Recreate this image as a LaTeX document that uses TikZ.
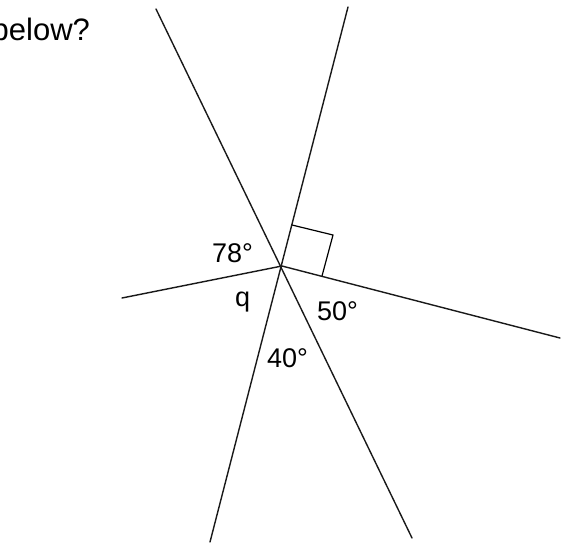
\documentclass[tikz,border=0pt]{standalone}
\usepackage{fontspec}
\setmainfont{Liberation Sans}
\begin{document}
\begin{tikzpicture}[x=1pt,y=-1pt,
  ray/.style={draw=black!90, line width=1.4pt, line cap=round},
  sq/.style={draw=black, line width=1.2pt},
  lab/.style={anchor=base west, inner sep=0pt, font=\fontsize{27}{30}\selectfont},
  big/.style={anchor=base west, inner sep=0pt, font=\fontsize{31}{34}\selectfont}]
\useasboundingbox (0,0) rectangle (568,542);
\clip (0,0) rectangle (568,542);
\coordinate (C) at (282,266);
\coordinate (TL) at (156,9);
\coordinate (BR) at (412,538);
\coordinate (TR) at (348,7);
\coordinate (BL) at (210,542);
\coordinate (L) at (122,298);
\coordinate (R) at (560,338);
\draw[ray] (TL) -- (BR);
\draw[ray] (TR) -- (BL);
\draw[ray] (L) -- (C) -- (R);
\coordinate (S1) at (292,225);
\coordinate (S2) at (333,235);
\coordinate (S3) at (322,276);
\draw[sq] (S1) -- (S2) -- (S3);
\node[big] (q0) at (-8.5,40) {below?};
\node[lab] (a78) at (212,262) {78°};
\node[lab] (aq) at (235,306) {q};
\node[lab] (a50) at (317,320) {50°};
\node[lab] (a40) at (267,367) {40°};
\end{tikzpicture}
\end{document}
